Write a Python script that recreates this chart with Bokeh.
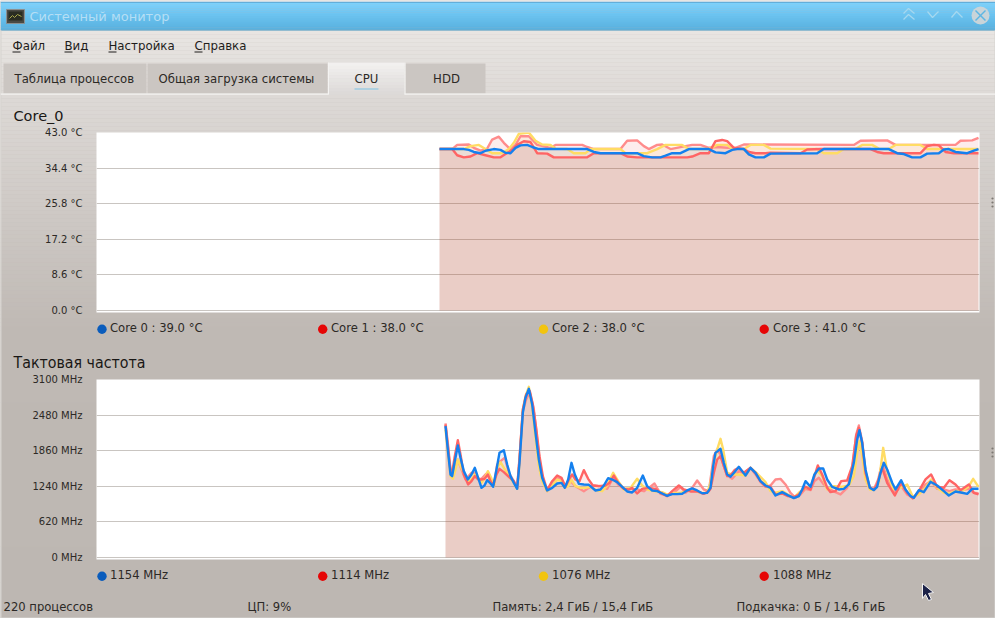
from bokeh.plotting import figure
from bokeh.layouts import column
from bokeh.models import Range1d, FixedTicker, PrintfTickFormatter, Legend, LegendItem
from bokeh.core.properties import value
from bokeh.embed import file_html
from bokeh.resources import INLINE

FONT = "DejaVu Sans"

# ---- data: (time, reading) pairs, two stretches of the time axis -------------
BASE_T1, BASE_T2 = 1002, 1842
BASE_F1, BASE_F2 = 1017, 1842

core0_temp_a = [(27,39),(100,39),(115,38.8),(130,38.3),(150,38),(165,38.6),(190,39),(210,38.8),(225,38.1),(240,38),(255,39.3),(270,39.9),(290,40),(305,39.5),(325,39),(470,39),(490,38.3),(510,38),(620,38),(640,37.3),(665,37),(690,37),(705,37.4),(725,38),(750,38),(775,39),(835,39)]
core0_temp_b = [(15,38.2),(45,38),(65,38.8),(80,39),(100,39),(115,37.7),(135,37),(160,37),(180,37.9),(320,38),(340,39),(535,39),(560,38),(580,37.8),(605,37),(630,37),(650,37.9),(685,38),(700,38.9),(715,39),(735,38.3),(770,38),(790,38.6),(804,39)]
core1_temp_a = [(27,39),(65,39),(80,37.5),(100,37),(120,37.2),(140,38),(165,37.5),(190,37),(210,37),(225,37.8),(245,38.8),(260,40),(280,40.9),(300,40.7),(320,38),(350,37.9),(370,37),(470,37),(490,38),(570,38),(590,37.2),(620,37),(770,37),(785,37.2),(810,38),(835,38)]
core1_temp_b = [(15,40.9),(35,41.2),(50,40.9),(70,39.3),(100,39),(115,38.3),(135,38),(165,38),(180,38.1),(270,38),(290,38.9),(330,39),(480,39),(500,38.3),(520,38),(630,38),(650,39.7),(670,40),(685,39.9),(705,38.3),(730,38),(804,38)]
core2_temp_a = [(27,39),(100,39),(120,39.7),(145,40),(165,39),(185,38),(215,38),(235,39),(250,40.5),(265,42.7),(295,43),(315,41),(335,40.1),(360,40),(375,39.1),(410,39),(430,38),(465,38),(480,39),(570,39),(585,38),(635,38),(650,38),(680,39),(705,40),(755,40),(775,39),(835,39)]
core2_temp_b = [(20,40),(50,40),(65,39.1),(100,39),(120,40),(160,40),(180,39.1),(320,39),(340,38),(380,38),(400,39),(435,39),(455,40),(485,40),(505,39.1),(535,39),(555,40),(630,40),(650,39),(770,39),(804,39)]
core3_temp_a = [(27,39),(65,39),(80,40),(115,40.1),(130,39.3),(150,38.6),(170,39.1),(185,41.3),(205,42),(220,40.5),(240,38.9),(255,40),(270,42.1),(295,42.1),(320,40),(360,39.3),(375,40),(455,40),(470,39.5),(490,39),(570,39),(590,41),(620,41.1),(640,39.7),(655,39),(680,40),(695,40.1),(720,39),(765,39.7),(785,40),(810,40),(835,39.3)]
core3_temp_b = [(20,39.5),(50,39.3),(75,39.3),(100,40.1),(430,40),(450,41),(530,41.1),(555,40),(735,40),(750,41),(785,41.1),(804,41.7)]

core0_freq_a = [(30,2287),(38,1823),(45,1445),(50,1417),(57,1649),(67,1951),(75,1736),(85,1504),(97,1358),(108,1445),(118,1562),(128,1388),(138,1213),(147,1254),(155,1347),(165,1289),(173,1231),(183,1533),(192,1823),(205,1869),(215,1620),(225,1417),(235,1300),(245,1196),(252,1649),(262,2520),(270,2781),(280,2937),(290,2665),(300,2171),(310,1707),(320,1388),(335,1167),(350,1213),(365,1289),(378,1300),(388,1213),(398,1358),(408,1649),(418,1445),(430,1283),(445,1271),(460,1266),(480,1167),(495,1184),(505,1254),(518,1382),(530,1358),(545,1312),(560,1231),(575,1150),(590,1132),(605,1213),(622,1428),(635,1242),(650,1167),(665,1155),(680,1115),(695,1074),(710,1103),(725,1103),(740,1109),(755,1167),(770,1202),(785,1167),(800,1120),(815,1126)]
core0_freq_b = [(0,1214),(8,1591),(15,1823),(30,1893),(40,1649),(50,1446),(60,1405),(72,1486),(85,1579),(95,1504),(105,1428),(120,1562),(135,1475),(150,1330),(165,1254),(180,1214),(195,1080),(215,1138),(232,1086),(250,1034),(265,1069),(275,1185),(285,1330),(300,1231),(312,1446),(325,1550),(338,1550),(350,1359),(365,1231),(385,1185),(400,1196),(415,1272),(430,1649),(440,2055),(447,2218),(455,1997),(465,1533),(478,1214),(490,1173),(500,1231),(510,1475),(520,1649),(530,1533),(545,1301),(555,1185),(572,1347),(585,1185),(600,1069),(610,1040),(625,1173),(640,1138),(660,1318),(680,1254),(700,1156),(715,1080),(735,1150),(755,1127),(770,1109),(785,1196),(804,1196)]
core1_freq_a = [(30,2316),(38,1881),(45,1504),(50,1475),(57,1736),(67,2043),(75,1794),(85,1445),(98,1271),(108,1329),(118,1417),(128,1358),(138,1358),(147,1370),(157,1445),(165,1329),(173,1254),(183,1445),(192,1544),(205,1486),(220,1405),(235,1329),(245,1213),(252,1707),(262,2578),(272,2839),(283,2897),(292,2665),(302,2258),(312,1765),(322,1417),(335,1173),(350,1329),(365,1428),(378,1388),(390,1231),(400,1358),(410,1445),(420,1358),(432,1329),(445,1521),(458,1370),(472,1254),(490,1242),(510,1254),(522,1300),(535,1428),(548,1300),(565,1196),(580,1184),(590,1213),(605,1115),(620,1196),(640,1213),(660,1196),(675,1126),(695,1068),(710,1155),(730,1254),(745,1184),(765,1150),(785,1150),(805,1109),(820,1155)]
core1_freq_b = [(0,1196),(10,1475),(20,1707),(30,1765),(40,1591),(50,1417),(62,1446),(72,1521),(85,1562),(100,1475),(120,1562),(135,1475),(150,1330),(165,1243),(180,1231),(195,1098),(215,1115),(232,1069),(250,1051),(265,1098),(285,1231),(300,1185),(312,1417),(322,1603),(335,1446),(350,1214),(360,1138),(375,1156),(392,1330),(410,1341),(425,1591),(437,2113),(445,2259),(455,1997),(465,1475),(478,1214),(490,1185),(500,1272),(515,1562),(530,1301),(553,1080),(572,1301),(590,1127),(607,1028),(625,1156),(645,1359),(662,1446),(680,1231),(700,1214),(717,1347),(735,1272),(750,1173),(775,1272),(790,1127),(804,1098)]
core2_freq_a = [(30,2229),(38,1794),(45,1417),(52,1370),(60,1533),(67,1707),(75,1591),(85,1475),(98,1329),(108,1358),(118,1445),(128,1388),(138,1300),(147,1370),(157,1504),(167,1388),(175,1242),(185,1562),(195,1660),(208,1533),(220,1417),(235,1300),(245,1196),(252,1649),(262,2578),(270,2810),(280,2972),(290,2607),(300,2084),(310,1591),(320,1329),(335,1155),(350,1254),(365,1358),(378,1329),(388,1213),(398,1242),(408,1358),(420,1242),(435,1213),(450,1213),(465,1231),(485,1167),(500,1155),(515,1254),(533,1475),(548,1329),(565,1184),(585,1213),(605,1370),(620,1254),(635,1184),(655,1155),(680,1138),(695,1097),(715,1126),(735,1126),(755,1167),(775,1173),(795,1126),(815,1126)]
core2_freq_b = [(0,1301),(10,1649),(20,1881),(30,2067),(38,1881),(50,1475),(65,1446),(85,1446),(105,1428),(120,1562),(140,1463),(165,1312),(180,1156),(195,1127),(215,1156),(232,1098),(250,1040),(265,1127),(285,1214),(300,1214),(312,1446),(322,1504),(335,1417),(350,1185),(370,1243),(392,1231),(415,1254),(430,1417),(440,1823),(447,2026),(455,1765),(465,1359),(478,1185),(490,1173),(505,1301),(518,1910),(530,1504),(548,1185),(570,1214),(590,1272),(607,1057),(625,1098),(645,1214),(662,1359),(680,1214),(700,1127),(717,1115),(735,1156),(760,1173),(775,1243),(788,1370),(804,1231)]
core3_freq_a = [(30,2334),(38,1939),(45,1533),(52,1445),(60,1620),(67,1707),(78,1533),(90,1358),(108,1475),(118,1475),(128,1370),(138,1370),(150,1445),(157,1475),(167,1358),(175,1242),(185,1620),(195,1678),(208,1736),(220,1475),(235,1329),(245,1213),(252,1736),(262,2549),(272,2752),(283,2879),(295,2578),(305,2055),(315,1562),(325,1300),(335,1155),(350,1300),(365,1388),(378,1358),(390,1231),(405,1329),(420,1242),(445,1155),(460,1213),(475,1254),(495,1242),(515,1196),(533,1388),(548,1271),(565,1196),(585,1196),(605,1184),(625,1155),(640,1213),(657,1289),(675,1109),(695,1080),(715,1126),(735,1231),(750,1126),(770,1213),(785,1341),(805,1184),(820,1155)]
core3_freq_b = [(0,1359),(10,1765),(20,1881),(30,1794),(40,1591),(50,1428),(65,1370),(85,1504),(100,1463),(120,1562),(135,1446),(150,1312),(165,1231),(180,1254),(195,1359),(210,1370),(225,1272),(240,1127),(255,1040),(270,1098),(285,1196),(300,1173),(312,1330),(325,1388),(340,1272),(355,1196),(375,1138),(390,1098),(410,1214),(425,1504),(437,2142),(445,2299),(455,2026),(465,1504),(478,1214),(490,1185),(503,1359),(515,1649),(530,1359),(553,1127),(572,1243),(590,1098),(607,1040),(625,1115),(645,1272),(662,1330),(680,1196),(700,1185),(717,1156),(735,1185),(755,1173),(775,1196),(790,1127),(804,1115)]

temp_ticks = [0, 8.6, 17.2, 25.8, 34.4, 43]
freq_ticks = [0, 620, 1240, 1860, 2480, 3100]
temp_labels = ["Core 0 : 39.0 °C", "Core 1 : 38.0 °C", "Core 2 : 38.0 °C", "Core 3 : 41.0 °C"]
freq_labels = ["1154 MHz", "1114 MHz", "1076 MHz", "1088 MHz"]
dot_colors = ["#0a5cbc", "#e60606", "#f2c40f", "#e60606"]
fill_colors = ["#0057b8", "#e60000", "#f0c814", "#e60000"]
line_colors = ["#1480ee", "#ff6464", "#ffdc64", "#ff8c8c"]
tab_names = ["Таблица процессов", "Общая загрузка системы", "CPU", "HDD"]
menu_names = ["Файл", "Вид", "Настройка", "Справка"]
status_texts = ["220 процессов", "ЦП: 9%", "Память: 2,4 ГиБ / 15,4 ГиБ", "Подкачка: 0 Б / 14,6 ГиБ"]


def series(a, b, base_a, base_b):
    pts = [(base_a + t, v) for t, v in a] + [(base_b + t, v) for t, v in b]
    return [p[0] for p in pts], [p[1] for p in pts]


def chart(top, y_max, y_low, ticks, fmt, data):
    p = figure(width=995, height=225, output_backend="svg", toolbar_location=None,
               x_range=Range1d(0, 2649), y_range=Range1d(y_low, y_max), x_axis_type=None,
               min_border_left=96, min_border_right=16, min_border_top=12, min_border_bottom=33,
               background_fill_color="#ffffff", border_fill_alpha=0, outline_line_color=None,
               frame_align=False)
    p.styles = {"position": "absolute", "left": "0px", "top": f"{top}px"}
    ax = p.yaxis[0]
    ax.ticker = FixedTicker(ticks=ticks)
    ax.formatter = PrintfTickFormatter(format=fmt)
    ax.axis_line_color = None
    ax.major_tick_line_color = None
    ax.minor_tick_line_color = None
    ax.major_label_standoff = 8
    ax.major_label_text_font = FONT
    ax.major_label_text_font_size = "10px"
    ax.major_label_text_color = "#2c2926"
    p.ygrid.ticker = FixedTicker(ticks=ticks)
    p.ygrid.grid_line_color = "#c9c5c1"
    p.xgrid.visible = False

    for (t, v), c in zip(data, fill_colors):
        p.varea(t, y1=[0] * len(t), y2=v, fill_color=c, fill_alpha=0.075)
    for (t, v), c in reversed(list(zip(data, line_colors))):
        p.line(t, v, line_color=c, line_width=2.4, line_join="round")
    return p


# ---- window furniture (a backdrop in window pixels) --------------------------
bg = figure(width=995, height=618, output_backend="svg", toolbar_location=None,
            x_range=Range1d(0, 995), y_range=Range1d(618, 0), x_axis_type=None, y_axis_type=None,
            min_border=0, outline_line_color=None, background_fill_color="#bfb9b4", border_fill_alpha=0,
            frame_align=False)
bg.grid.visible = False
bg.styles = {"position": "absolute", "left": "0px", "top": "0px"}


def lerp(a, b, f):
    return "#%02x%02x%02x" % tuple(round(x + (y - x) * f) for x, y in zip(a, b))


def band(y0, y1, c0, c1, n, x0=0, x1=995):
    h = (y1 - y0) / n
    bg.quad(left=x0, right=x1,
            top=[y0 + i * h for i in range(n)], bottom=[y0 + (i + 1) * h + 0.3 for i in range(n)],
            fill_color=[lerp(c0, c1, i / max(n - 1, 1)) for i in range(n)], line_color=None)


def label(x, y, s, size, color="#2c2926", align="left", font=FONT, weight="normal"):
    bg.text([x], [y], text=[s], text_font=value(font), text_font_size=size, text_color=color,
            text_align=align, text_baseline="middle", text_font_style=weight)


def legend(labels, offset_y, dot_y):
    items = []
    for name, c in zip(labels, dot_colors):
        r = bg.line([float("nan")] * 2, [float("nan")] * 2, line_color=c, line_alpha=0)
        items.append(LegendItem(label=name, renderers=[r]))
    bg.add_layout(Legend(items=items, orientation="horizontal", location=(102, offset_y), padding=0, margin=0,
                         spacing=0, glyph_width=1, glyph_height=14, label_standoff=7, label_width=213,
                         border_line_color=None, background_fill_alpha=0,
                         label_text_font=FONT, label_text_font_size="11.6px", label_text_color="#2c2926",
                         label_height=14), "center")
    bg.scatter([101.5, 322.2, 543, 763.7], [dot_y] * 4, marker="circle", size=9.4,
               fill_color=dot_colors, line_color=None)


band(30, 94, (232, 229, 226), (222, 218, 215), 16)
band(94, 330, (221, 217, 214), (191, 185, 180), 59)
band(330, 618, (191, 185, 180), (189, 183, 178), 8)
band(2, 29, (122, 209, 253), (90, 178, 224), 14)
bg.quad(left=0, right=995, top=[0], bottom=[1.2], fill_color="#ffffff", line_color=None)
bg.quad(left=0, right=995, top=[1.2], bottom=[2.2], fill_color="#4fa6d9", line_color=None)
bg.quad(left=0, right=995, top=[29], bottom=[30], fill_color="#55a9d6", line_color=None)
bg.quad(left=[0, 994], right=[1, 995], top=30, bottom=618, fill_color="#d6d3d0", line_color=None)
bg.quad(left=0, right=995, top=[617], bottom=[618], fill_color="#d6d3d0", line_color=None)

# icon + title
bg.quad(left=[6], right=[24], top=[9], bottom=[23], fill_color="#4a4a44", line_color="#8a8f90")
bg.quad(left=[8], right=[22], top=[11], bottom=[20], fill_color="#2a2d22", line_color=None)
bg.line([9, 12, 14, 17, 21], [18, 15, 17, 14, 16], line_color="#a9a94c", line_width=1)
label(29, 16, "Системный монитор", "13px", "#b5def4")

# window buttons
bg.multi_line([[903, 908, 914], [903, 908, 914], [927, 932, 938], [951, 956, 962]],
              [[13, 8, 13], [19, 14, 19], [11, 17, 11], [17, 11, 17]],
              line_color="#a5d8ef", line_width=1.3)
bg.scatter([980], [15], marker="circle", size=18, fill_color="#c9d4d9", line_color=None)
bg.multi_line([[975, 985], [975, 985]], [[10, 20], [20, 10]], line_color="#5eb6e3", line_width=1.5)

# menu
for x, s, ux in zip([12, 64, 108, 194], menu_names, [8, 8, 8, 8]):
    label(x, 45, s, "11.8px", "#1f1d1b")
    bg.quad(left=[x], right=[x + ux], top=[51], bottom=[52], fill_color="#1f1d1b", line_color=None)

# tabs
bg.quad(left=[3, 147, 405], right=[146, 327, 485], top=63, bottom=93, fill_color="#cbc6c2", line_color=None)
band(62, 94, (242, 240, 239), (221, 218, 216), 10, 328, 404)
bg.quad(left=[0, 404], right=[328, 995], top=93, bottom=94.2, fill_color="#f4f3f2", line_color=None)
bg.quad(left=[327.5, 404], right=[328.5, 405], top=62, bottom=94, fill_color="#f4f3f2", line_color=None)
bg.quad(left=[354], right=[378], top=[88], bottom=[89], fill_color="#7fc3e6", line_color=None)
label(14, 78, tab_names[0], "11.7px")
label(158, 78, tab_names[1], "11.7px")
label(366, 78, tab_names[2], "11.7px", align="center")
label(446, 78, tab_names[3], "11.7px", align="center")

# section titles
label(13, 115, "Core_0", "14.5px", "#191715")
label(13, 362, "Тактовая частота", "15.8px", "#191715", font="DejaVu Sans Condensed")

# status bar
for x, s in zip([3, 247, 492, 736], status_texts):
    label(x, 606, s, "11.6px")

# splitter handles
bg.scatter([992] * 6, [198, 202, 206, 448, 452, 456], marker="circle", size=2.2,
           fill_color="#7d7873", line_color=None)

# mouse pointer
bg.patch([922, 922, 925, 928, 931, 928, 933], [583, 598, 594, 600, 599, 593, 592],
         fill_color="#1c2248", line_color="#f2f2f2", line_width=1)

legend(temp_labels, 283, 328.7)
legend(freq_labels, 36, 575.7)

# ---- charts ------------------------------------------------------------------
temp_data = [series(a, b, BASE_T1, BASE_T2) for a, b in [
    (core0_temp_a, core0_temp_b), (core1_temp_a, core1_temp_b),
    (core2_temp_a, core2_temp_b), (core3_temp_a, core3_temp_b)]]
freq_data = [series(a, b, BASE_F1, BASE_F2) for a, b in [
    (core0_freq_a, core0_freq_b), (core1_freq_a, core1_freq_b),
    (core2_freq_a, core2_freq_b), (core3_freq_a, core3_freq_b)]]

top1 = chart(120, 43, -0.48, temp_ticks, "%.1f °C", temp_data)
top2 = chart(367, 3100, -35, freq_ticks, "%d MHz", freq_data)

p = column(bg, top1, top2, spacing=0, width=995, height=618)
p.styles = {"position": "absolute", "left": "0px", "top": "0px"}

open("out.html", "w").write(file_html(p, INLINE))
